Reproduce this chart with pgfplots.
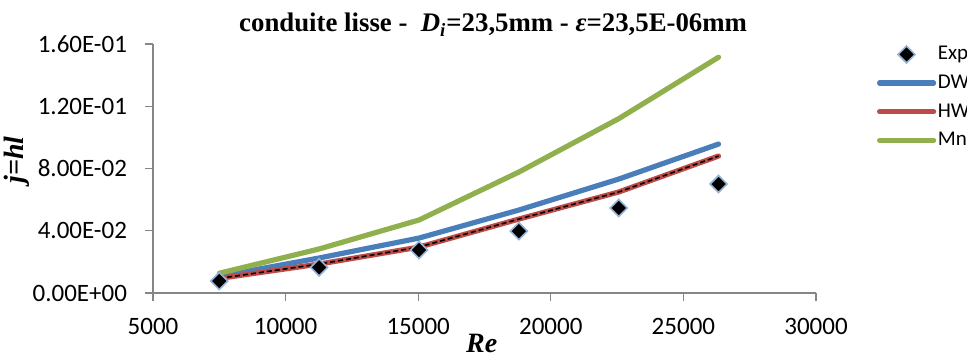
\documentclass[border=0pt]{standalone}
\usepackage{fontspec}
\setmainfont{Carlito}
\newfontfamily\tnr{Liberation Serif}
\usepackage{pgfplots}
\pgfplotsset{compat=1.18}
\definecolor{dwblue}{HTML}{4A7EBB}
\definecolor{hwred}{HTML}{BE4B48}
\definecolor{mngreen}{HTML}{8FB04C}
\definecolor{axgray}{HTML}{868686}
\definecolor{mkborder}{HTML}{95B3D7}
\pgfplotsset{
  lineleg/.style={legend image code/.code={\draw[##1] plot coordinates {(0pt,0pt)(27pt,0pt)};}},
  markleg/.style={legend image code/.code={\draw[mark repeat=2,mark phase=2,##1] plot coordinates {(0pt,0pt)(13.5pt,0pt)(27pt,0pt)};}},
}
\begin{document}
\begin{tikzpicture}
\useasboundingbox (0,0) rectangle (483.5pt,179.5pt);
\begin{axis}[
  at={(76.5pt,33pt)}, anchor=south west,
  scale only axis, width=331.5pt, height=124.5pt,
  xmin=5000, xmax=30000, ymin=0, ymax=0.16,
  axis x line*=bottom, axis y line*=left,
  axis line style={draw=axgray, line width=0.6pt, -},
  xtick={5000,10000,15000,20000,25000,30000},
  xticklabels={5000,10000,15000,20000,25000,30000},
  ytick={0,0.04,0.08,0.12,0.16},
  yticklabels={0.00E+00,4.00E-02,8.00E-02,1.20E-01,1.60E-01},
  tick align=outside, major tick length=3.8pt,
  tick style={draw=axgray, line width=0.6pt},
  xticklabel style={font=\fontsize{12.5}{14}\selectfont, anchor=base, inner sep=0pt, yshift=-17pt},
  yticklabel style={font=\fontsize{12.5}{14}\selectfont, anchor=east, inner sep=0pt, xshift=-9pt},
  title={\tnr\bfseries conduite lisse -\ \ {\itshape D}\textsubscript{\itshape i}=23,5mm - {\itshape ε}=23,5E-06mm},
  title style={font=\fontsize{13.4}{15}\selectfont, at={(axis description cs:0.513,1.0)}, anchor=base, inner sep=0pt},
  xlabel={\tnr\bfseries\itshape Re},
  xlabel style={font=\fontsize{14}{16}\selectfont, at={(axis description cs:0.4957,-0.237)}, anchor=base, inner sep=0pt},
  ylabel={\tnr\bfseries\itshape j=hl},
  ylabel style={font=\fontsize{14}{16}\selectfont, at={(axis description cs:-0.205,0.535)}, anchor=center, inner sep=0pt},
  legend style={at={(axis description cs:1.092,0.996)}, anchor=north west, draw=none, fill=none,
    inner sep=0pt, outer sep=0pt, font=\fontsize{10.5}{12}\selectfont, row sep=4.8pt,
    nodes={inner sep=0pt, text height=7.5pt, text depth=2pt},
    /tikz/every odd column/.style={column sep=0.8pt}},
  legend cell align=left,
  clip=false,
]
\addplot[only marks, mark=square*, mark size=3pt,
  mark options={rotate=45, fill=black, draw=mkborder, line width=0.8pt}, markleg]
  coordinates {(7500,0.0077) (11265,0.0165) (15030,0.0276) (18795,0.0398) (22560,0.0546) (26325,0.0700)};
\addlegendentry{Exp}
\addplot[dwblue, line width=2.6pt, line cap=round, line join=round, lineleg]
  coordinates {(7500,0.0107) (11265,0.0225) (15030,0.0353) (18795,0.0533) (22560,0.0732) (26325,0.0957)};
\addlegendentry{DW}
\addplot[hwred, line width=2.6pt, line cap=round, line join=round, lineleg]
  coordinates {(7500,0.0094) (11265,0.0186) (15030,0.0295) (18795,0.0475) (22560,0.0649) (26325,0.0880)};
\addlegendentry{HW}
\addplot[mngreen, line width=2.6pt, line cap=round, line join=round, lineleg]
  coordinates {(7500,0.0127) (11265,0.0283) (15030,0.0469) (18795,0.0777) (22560,0.1120) (26325,0.1515)};
\addlegendentry{Mn}
\addplot[black, line width=0.8pt, dash pattern=on 2.5pt off 1.5pt, forget plot]
  coordinates {(7500,0.0094) (11265,0.0186) (15030,0.0295) (18795,0.0475) (22560,0.0649) (26325,0.0880)};
\end{axis}
\end{tikzpicture}
\end{document}
